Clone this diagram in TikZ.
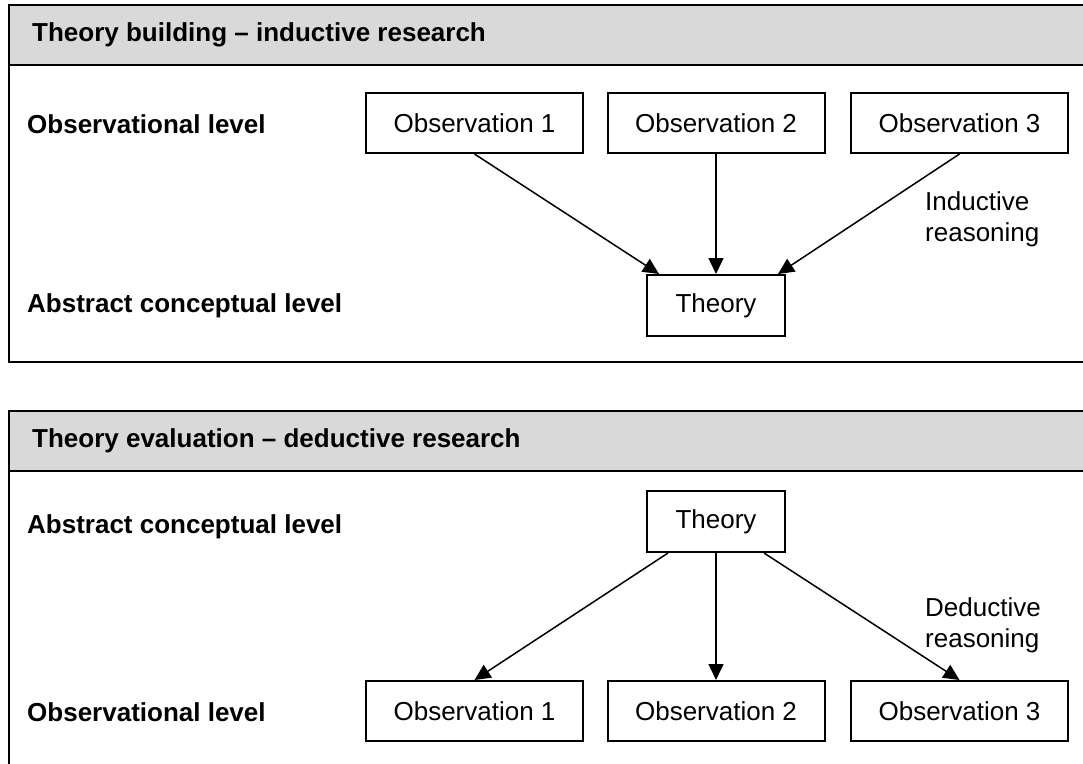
\documentclass[tikz,border=0pt]{standalone}
\usepackage{fontspec}
\setmainfont{Liberation Sans}
\usetikzlibrary{arrows.meta}
\definecolor{headgray}{HTML}{D9D9D9}
\begin{document}
\begin{tikzpicture}[x=1pt,y=-1pt,
  every node/.style={font=\fontsize{26}{31}\selectfont},
  obsbox/.style={draw, line width=2pt, minimum width=217pt, minimum height=60pt, inner sep=0pt},
  theorybox/.style={draw, line width=2pt, minimum width=138pt, minimum height=61pt, inner sep=0pt},
  sidelabel/.style={anchor=west, inner sep=0pt, font=\fontsize{26}{31}\selectfont\bfseries},
  panel/.style={line width=2.5pt},
  link/.style={line width=1.5pt, -{Triangle[length=16pt,width=15pt]}},
  note/.style={anchor=west, align=left, inner sep=0pt}]
\useasboundingbox (0,0) rectangle (1083,763);
\clip (0,0) rectangle (1083,763);

% upper panel: theory building
\fill[headgray] (9,5) rectangle (1100,65);
\draw[panel] (1100,5) -- (9,5) -- (9,362) -- (1100,362);
\draw[panel] (9,65) -- (1100,65);

% lower panel: theory evaluation
\fill[headgray] (9,411) rectangle (1100,471);
\draw[panel] (1100,411) -- (9,411) -- (9,790);
\draw[panel] (9,471) -- (1100,471);

% upper panel contents
\node[sidelabel] (h1) at (32,35) {Theory building – inductive research};
\node[sidelabel] (l1) at (27,124) {Observational level};
\node[sidelabel] (l2) at (27,306) {Abstract conceptual level};

\node[obsbox] (a1) at (474.5,123) {Observation 1};
\node[obsbox] (a2) at (716,123) {Observation 2};
\node[obsbox] (a3) at (959.5,123) {Observation 3};
\node[theorybox] (t1) at (716,305.5) {Theory};

\draw[link] (a1.south) -- ([xshift=13pt]t1.north west);
\draw[link] (a2.south) -- (t1.north);
\draw[link] (a3.south) -- ([xshift=-8pt]t1.north east);

\node[note] (n1) at (925,219) {Inductive\\reasoning};

% lower panel contents
\node[sidelabel] (h2) at (32,441) {Theory evaluation – deductive research};
\node[sidelabel] (l3) at (27,527) {Abstract conceptual level};
\node[sidelabel] (l4) at (27,712) {Observational level};

\node[theorybox] (t2) at (716,521.5) {Theory};
\node[obsbox] (b1) at (474.5,711) {Observation 1};
\node[obsbox] (b2) at (716,711) {Observation 2};
\node[obsbox] (b3) at (959.5,711) {Observation 3};

\draw[link] ([xshift=22pt]t2.south west) -- (b1.north);
\draw[link] (t2.south) -- (b2.north);
\draw[link] ([xshift=-22pt]t2.south east) -- (b3.north);

\node[note] (n2) at (925,625) {Deductive\\reasoning};
\end{tikzpicture}
\end{document}
